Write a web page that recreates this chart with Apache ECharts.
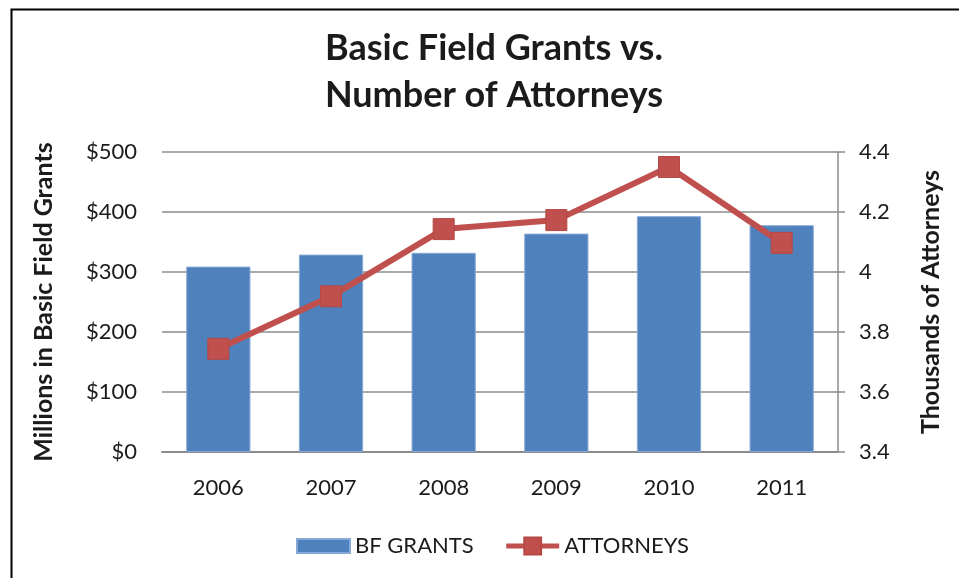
<!DOCTYPE html>
<html>
<head>
<meta charset="utf-8">
<script src="https://cdn.jsdelivr.net/npm/echarts@6/dist/echarts.min.js"></script>
<style>
  html, body { margin: 0; padding: 0; background: #fff; }
  #chart { width: 959px; height: 578px; }
</style>
</head>
<body>
<div id="chart"></div>
<script>
// data
var years = ["2006", "2007", "2008", "2009", "2010", "2011"];
var bfGrants = [309, 329, 332, 364, 393, 378];          // millions of dollars
var attorneys = [3.744, 3.919, 4.143, 4.173, 4.35, 4.097]; // thousands
var grantTicks = [0, 100, 200, 300, 400, 500];
var attorneyTicks = [3.4, 3.6, 3.8, 4, 4.2, 4.4];

var font = "Lato";
var ink = "#1b1b1b";
var gridGray = "#8c8c8c";
var red = "#c0504d";

var chart = echarts.init(document.getElementById("chart"));

var option = {
    animation: false,
    backgroundColor: "#fff",
    textStyle: { fontFamily: font, color: ink },
    title: {
        text: "Basic Field Grants vs.\nNumber of Attorneys",
        left: 489,
        textAlign: "center",
        top: 20,
        textStyle: {
            fontFamily: font,
            fontWeight: "bold",
            fontSize: 36,
            lineHeight: 47,
            color: ink
        }
    },
    legend: {
        left: 291,
        top: 530,
        itemWidth: 53,
        itemHeight: 21,
        itemGap: 30,
        textStyle: { fontFamily: font, fontSize: 22, color: ink },
        lineStyle: { width: 5 },
        data: [
            // flat bar swatch kept at its own height inside the taller legend slot
            { name: "BF GRANTS", icon: "path://M0,0L53,0L53,14L0,14Z" },
            { name: "ATTORNEYS" }
        ]
    },
    grid: { left: 162, right: 121, top: 152, bottom: 126 },
    xAxis: {
        type: "category",
        data: years,
        axisLine: { lineStyle: { color: gridGray, width: 2 } },
        axisTick: { show: false },
        axisLabel: { fontFamily: font, fontSize: 22, color: ink, margin: 25 }
    },
    yAxis: [
        {
            type: "value",
            min: grantTicks[0],
            max: grantTicks[grantTicks.length - 1],
            interval: grantTicks[1] - grantTicks[0],
            name: "Millions in Basic Field Grants",
            nameLocation: "middle",
            nameRotate: 90,
            nameGap: 106,
            nameTextStyle: { fontFamily: font, fontWeight: "bold", fontSize: 25, color: ink },
            axisLine: { show: false },
            axisTick: { show: false },
            axisLabel: {
                fontFamily: font, fontSize: 22, color: ink, margin: 25,
                formatter: function (v) { return "$" + v; }
            },
            splitLine: { lineStyle: { color: gridGray, width: 1.5 } }
        },
        {
            type: "value",
            position: "right",
            min: attorneyTicks[0],
            max: attorneyTicks[attorneyTicks.length - 1],
            interval: 0.2,
            name: "Thousands of Attorneys",
            nameLocation: "middle",
            nameRotate: 90,
            nameGap: 80,
            nameTextStyle: { fontFamily: font, fontWeight: "bold", fontSize: 25, color: ink },
            axisLine: { show: true, lineStyle: { color: gridGray, width: 1.5 } },
            axisTick: { show: true, inside: false, length: 7, lineStyle: { color: gridGray, width: 1.5 } },
            axisLabel: {
                fontFamily: font, fontSize: 22, color: ink, margin: 21,
                formatter: function (v) { return String(Math.round(v * 10) / 10); }
            },
            splitLine: { show: false }
        }
    ],
    series: [
        {
            name: "BF GRANTS",
            type: "bar",
            yAxisIndex: 0,
            data: bfGrants,
            barCategoryGap: "43%",
            itemStyle: { color: "#4f81bd", borderColor: "#86a8d6", borderWidth: 1 }
        },
        {
            name: "ATTORNEYS",
            type: "line",
            yAxisIndex: 1,
            data: attorneys,
            symbol: "rect",
            symbolSize: 21,
            lineStyle: { color: red, width: 6 },
            itemStyle: { color: red, borderColor: "#b54744", borderWidth: 1 },
            z: 5
        }
    ],
    graphic: [
        {
            // frame around the chart, only top and left edges show
            type: "rect",
            left: 9,
            top: 7,
            shape: { width: 1200, height: 1200 },
            style: { fill: null, stroke: "#000", lineWidth: 2 },
            silent: true
        }
    ]
};

chart.setOption(option);
</script>
</body>
</html>
